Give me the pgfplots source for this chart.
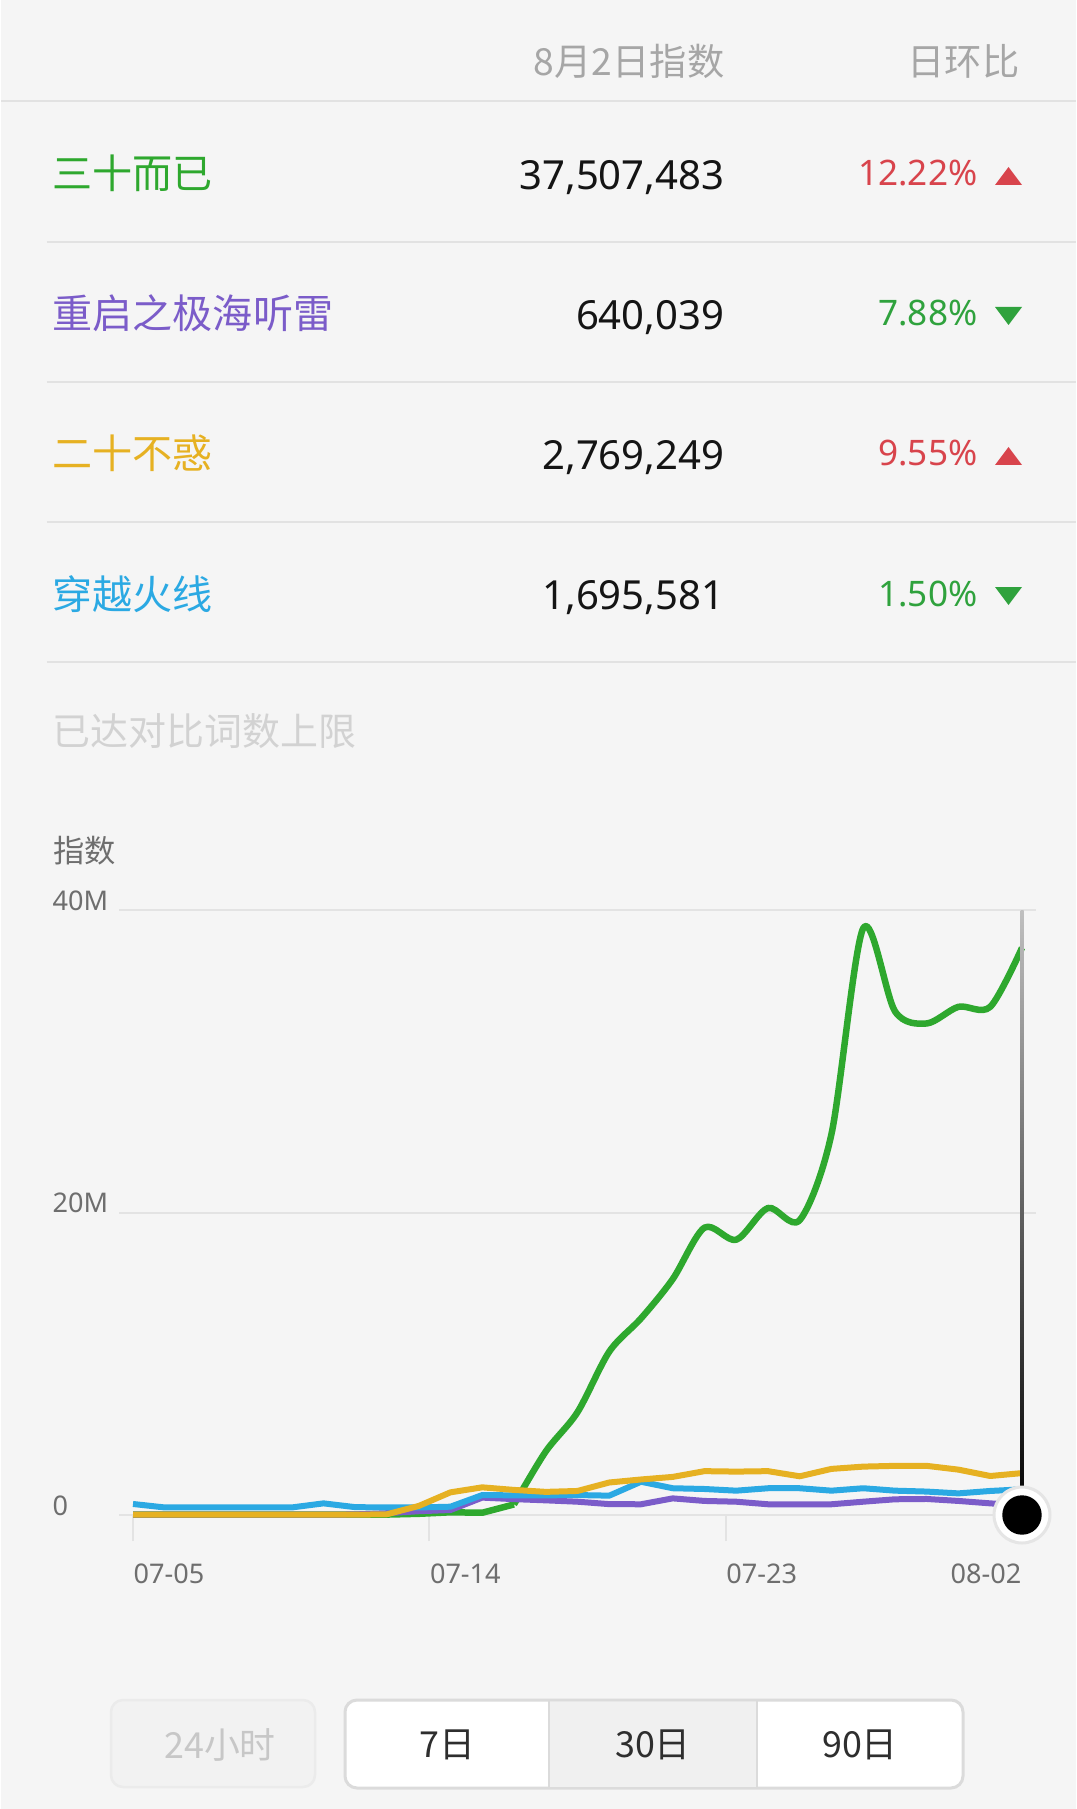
\documentclass[border=0pt]{standalone}
\usepackage{fontspec}
\usepackage{pgfplots}
\usepackage{pgfplotstable}
\pgfplotsset{compat=1.18}
\setmainfont{Noto Sans CJK SC}
\newfontfamily\lat{Noto Sans}
\newcommand\fs[1]{\fontsize{#1}{#1}\selectfont}

\definecolor{bg}{HTML}{F5F5F5}
\definecolor{sep}{HTML}{E2E2E2}
\definecolor{hdr}{HTML}{A6A6A6}
\definecolor{cgreen}{HTML}{2EA82E}
\definecolor{cpurple}{HTML}{7B5CC9}
\definecolor{cyellow}{HTML}{E6B122}
\definecolor{cblue}{HTML}{2BA9E3}
\definecolor{upred}{HTML}{D8444C}
\definecolor{downgreen}{HTML}{2FA23D}
\definecolor{faint}{HTML}{D2D2D2}
\definecolor{lab}{HTML}{6E6E6E}
\definecolor{gridc}{HTML}{E3E3E3}

% day index (0 = 07-05 ... 28 = 08-02), values in millions
\pgfplotstableread{
i   purple yellow blue
0   0.02   0.02   0.73
1   0.02   0.02   0.50
2   0.02   0.02   0.50
3   0.02   0.02   0.50
4   0.02   0.02   0.50
5   0.02   0.02   0.50
6   0.02   0.02   0.77
7   0.04   0.02   0.52
8   0.12   0.05   0.50
9   0.25   0.60   0.50
10  0.33   1.50   0.55
11  1.15   1.83   1.32
12  1.05   1.66   1.30
13  0.97   1.53   1.30
14  0.88   1.59   1.32
15  0.72   2.15   1.28
16  0.71   2.35   2.20
17  1.10   2.52   1.77
18  0.93   2.90   1.72
19  0.88   2.87   1.61
20  0.71   2.90   1.77
21  0.71   2.56   1.77
22  0.71   3.05   1.61
23  0.88   3.20   1.77
24  1.04   3.25   1.61
25  1.06   3.25   1.55
26  0.93   3.00   1.43
27  0.77   2.58   1.59
28  0.64   2.77   1.70
}\others

% 三十而已: flat start, then the smoothed rise
\pgfplotstableread{
i   green
0   0.02
1   0.02
2   0.02
3   0.02
4   0.02
5   0.02
6   0.02
7   0.02
8   0.03
9   0.08
10  0.18
11  0.15
12  0.70
}\greenA
\pgfplotstableread{
i   green
12  0.70
13  4.20
14  6.80
15  10.8
16  13.0
17  15.6
18  19.0
19  18.2
20  20.3
21  19.5
22  25.2
23  38.8
24  33.3
25  32.5
26  33.6
27  33.6
28  37.5
}\greenB

\begin{document}
\begin{tikzpicture}[x=0.1mm,y=-0.1mm]
\fill[bg] (0,0) rectangle (1075,1809);

% header
\node[anchor=base east,inner sep=0,text=hdr] at (724,76) {\fs{10.6pt}8月2日指数};
\node[anchor=base east,inner sep=0,text=hdr] at (1019,76) {\fs{10.6pt}日环比};
\draw[sep,line width=0.2mm] (0,101) -- (1075,101);

% rows
\foreach \k/\name/\col/\val/\pct/\pc/\up in {
  0/三十而已/cgreen/{37,507,483}/12.22\%/upred/1,
  1/重启之极海听雷/cpurple/{640,039}/7.88\%/downgreen/0,
  2/二十不惑/cyellow/{2,769,249}/9.55\%/upred/1,
  3/穿越火线/cblue/{1,695,581}/1.50\%/downgreen/0}{
  \pgfmathsetmacro\c{176+140*\k}
  \node[anchor=base west,inner sep=0,text=\col] at (51,\c+13) {\fs{11.4pt}\name};
  \node[anchor=base east,inner sep=0,text=black!92] at (724,\c+14) {\lat\fs{11.4pt}\val};
  \node[anchor=base east,inner sep=0,text=\pc] at (977,\c+10) {\lat\fs{10pt}\pct};
  \ifnum\up=1
    \fill[\pc] (994,\c+9) -- (1021,\c+9) -- (1007.5,\c-9) -- cycle;
  \else
    \fill[\pc] (994,\c-9) -- (1021,\c-9) -- (1007.5,\c+9) -- cycle;
  \fi
  \draw[sep,line width=0.2mm] (46,\c+66) -- (1075,\c+66);
}

\node[anchor=base west,inner sep=0,text=faint] at (51,745) {\fs{10.8pt}已达对比词数上限};
\node[anchor=base west,inner sep=0,text=lab] at (52,862) {\fs{8.9pt}指数};

\coordinate (plotorigin) at (118,1515);
\begin{axis}[
  at={(plotorigin)}, anchor=south west, scale only axis,
  width=91.7mm, height=60.5mm,
  xmin=-0.441, xmax=28.441, ymin=0, ymax=40,
  clip=false,
  separate axis lines,
  axis x line*=bottom, axis y line*=left,
  x axis line style={draw=gridc, line width=0.2mm, -},
  y axis line style={draw=none},
  ytick={0,20,40}, yticklabels={0,20M,40M},
  ytick style={draw=none},
  ymajorgrids, grid style={draw=gridc, line width=0.2mm},
  xtick={0,9.3333,18.6667}, xticklabels={07-05,07-14,07-23},
  xtick align=outside, major tick length=2.6mm,
  xtick style={draw=gridc, line width=0.2mm},
  extra x ticks={28}, extra x tick labels={08-02},
  extra x tick style={xtick style={draw=none}, xticklabel style={anchor=north east}},
  xticklabel style={anchor=north west, inner sep=0pt, yshift=-2.2mm, text=lab, font=\lat\fs{7.7pt}},
  yticklabel style={anchor=base west, inner sep=0pt, xshift=-6.7mm, text=lab, font=\lat\fs{7.7pt}},
]
\addplot[cgreen, line width=0.65mm, line join=round] table[x=i, y=green] {\greenA};
\addplot[cgreen, line width=0.65mm, smooth, tension=0.5, line join=round] table[x=i, y=green] {\greenB};
\addplot[cpurple, line width=0.6mm, line join=round] table[x=i, y=purple] {\others};
\addplot[cblue, line width=0.6mm, line join=round] table[x=i, y=blue] {\others};
\addplot[cyellow, line width=0.6mm, line join=round] table[x=i, y=yellow] {\others};
\shade[top color=black!25, bottom color=black] ([xshift=-0.15mm]axis cs:28,0) rectangle ([xshift=0.15mm]axis cs:28,40);
\addplot[only marks, mark=*, mark size=2.8mm, mark options={fill=white, draw=black!10, line width=0.3mm}] coordinates {(28,0)};
\addplot[only marks, mark=*, mark size=1.9mm, mark options={fill=black, draw=black}] coordinates {(28,0)};
\end{axis}

% period buttons
\draw[rounded corners=1.2mm, draw=black!8, fill=black!5, line width=0.25mm] (110,1700) rectangle (314,1787);
\node[text=black!22] at (219,1745) {\fs{10.2pt}24小时};
\draw[rounded corners=1.2mm, draw=black!14, fill=white, line width=0.3mm] (344,1700) rectangle (962,1788);
\fill[black!6] (548,1701.5) rectangle (756,1786.5);
\draw[black!14, line width=0.25mm] (548,1700) -- (548,1788) (756,1700) -- (756,1788);
\node[text=black!82] at (446,1745) {\fs{10.2pt}7日};
\node[text=black!82] at (652,1745) {\fs{10.2pt}30日};
\node[text=black!82] at (859,1745) {\fs{10.2pt}90日};
\end{tikzpicture}
\end{document}
